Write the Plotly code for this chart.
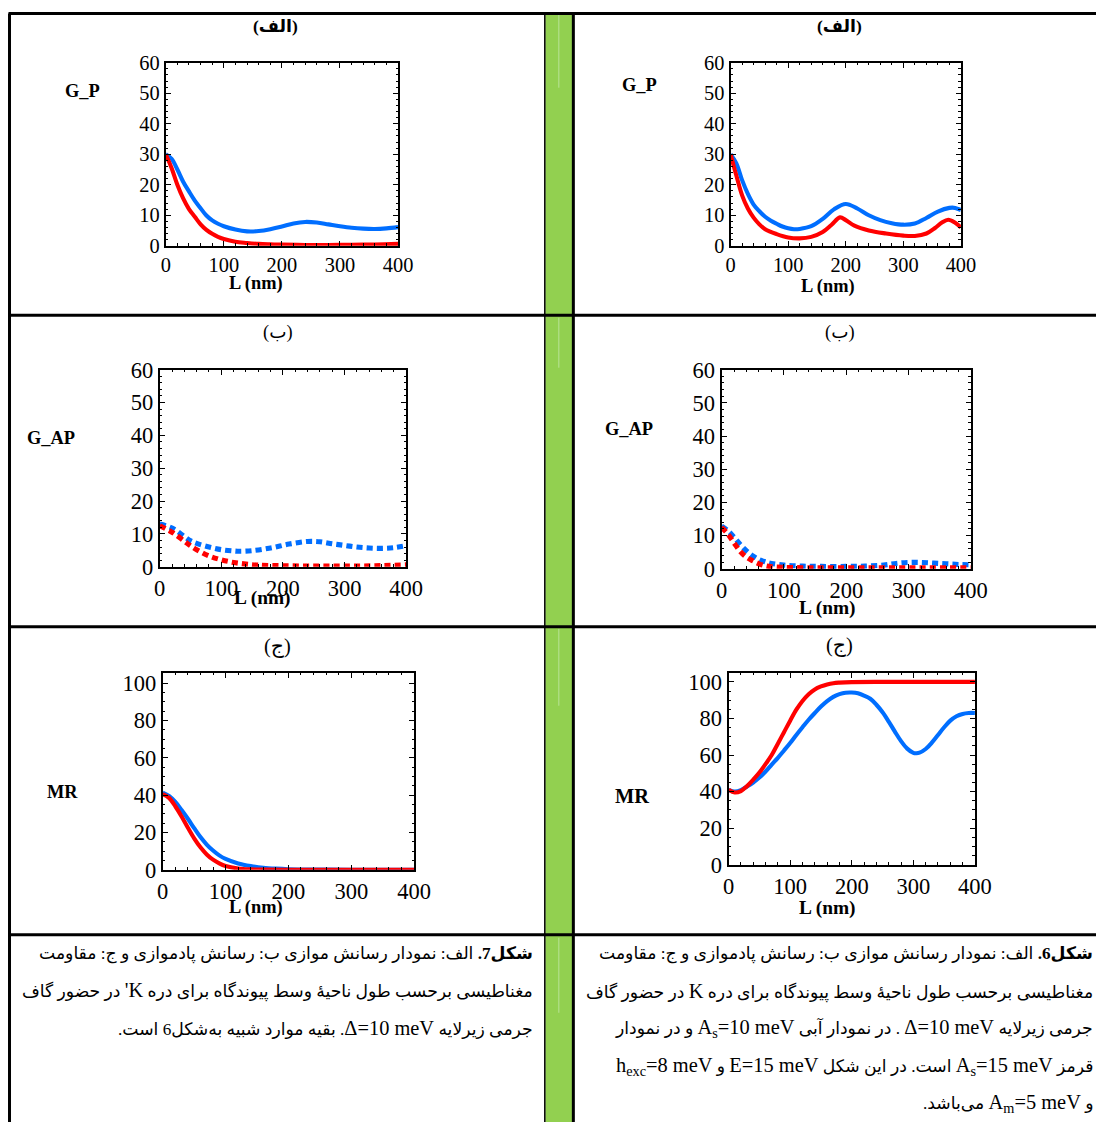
import plotly.graph_objects as go

# ---------------- data ----------------
# Row 1 (G_P) - left panel (K' valley)
L_gp_kp_blue = [0, 10, 20, 30, 40, 50, 60, 70, 80, 90, 100, 120, 140, 160, 180, 200, 220, 240, 260, 280, 300, 320, 340, 360, 380, 400]
gp_kp_blue = [30, 28.5, 25, 21, 17.8, 14.8, 12.3, 9.9, 8.3, 7.2, 6.4, 5.3, 4.7, 4.8, 5.4, 6.3, 7.3, 7.8, 7.6, 7.0, 6.4, 5.9, 5.6, 5.5, 5.7, 6.1]
L_gp_kp_red = [0, 10, 20, 30, 40, 50, 60, 70, 80, 90, 100, 120, 140, 160, 180, 200, 240, 280, 320, 360, 400]
gp_kp_red = [30, 25.5, 20, 15.5, 12, 9.5, 7, 5.2, 3.9, 2.9, 2.2, 1.3, 0.9, 0.6, 0.45, 0.35, 0.25, 0.25, 0.3, 0.4, 0.6]

# Row 1 (G_P) - right panel (K valley)
L_gp_k_blue = [0, 10, 20, 30, 40, 50, 60, 70, 80, 90, 100, 110, 120, 140, 160, 180, 200, 220, 240, 260, 280, 300, 320, 340, 360, 380, 390, 400]
gp_k_blue = [30, 27, 21.5, 17, 13.5, 11.3, 9.5, 8.2, 7.2, 6.3, 5.7, 5.4, 5.5, 6.4, 8.8, 12.0, 13.7, 12.2, 10.0, 8.4, 7.4, 6.9, 7.3, 9.1, 11.2, 12.4, 12.4, 11.7]
L_gp_k_red = [0, 10, 20, 30, 40, 50, 60, 80, 100, 120, 140, 160, 175, 190, 200, 215, 240, 270, 300, 320, 340, 355, 367, 378, 390, 400]
gp_k_red = [30, 23, 16.5, 12.2, 9.2, 7.0, 5.4, 3.8, 2.7, 2.4, 2.9, 4.5, 6.8, 9.3, 8.4, 6.6, 5.0, 4.0, 3.3, 3.2, 4.0, 5.8, 7.6, 8.5, 7.5, 6.0]

# Row 2 (G_AP) - left panel (K' valley)
L_gap_kp_blue = [0, 20, 40, 50, 60, 80, 100, 120, 130, 150, 180, 210, 240, 260, 280, 300, 320, 340, 360, 380, 400]
gap_kp_blue = [13, 11.8, 9.2, 7.9, 7.1, 6.0, 5.2, 4.8, 4.7, 4.9, 5.7, 6.9, 7.7, 7.6, 7.0, 6.5, 6.0, 5.7, 5.6, 5.8, 6.4]
L_gap_kp_red = [0, 20, 40, 50, 60, 80, 100, 120, 140, 160, 200, 250, 300, 350, 400]
gap_kp_red = [12.5, 10.5, 7.8, 6.4, 5.2, 3.3, 2.1, 1.3, 0.8, 0.5, 0.3, 0.2, 0.2, 0.3, 0.6]

# Row 2 (G_AP) - right panel (K valley)
L_gap_k_blue = [0, 10, 20, 30, 40, 50, 60, 70, 80, 100, 130, 160, 200, 230, 260, 280, 300, 320, 340, 360, 380, 400]
gap_k_blue = [12.8, 11.5, 9.5, 7.3, 5.4, 3.9, 2.8, 2.1, 1.6, 1.1, 0.8, 0.7, 0.7, 0.8, 1.1, 1.6, 1.9, 1.9, 1.7, 1.5, 1.3, 1.2]
L_gap_k_red = [0, 10, 20, 30, 40, 50, 60, 70, 80, 100, 150, 200, 250, 300, 350, 400]
gap_k_red = [12.5, 10.5, 7.8, 5.2, 3.5, 2.4, 1.5, 0.9, 0.6, 0.4, 0.3, 0.3, 0.3, 0.3, 0.3, 0.3]

# Row 3 (MR) - left panel (K' valley)
L_mr_kp_blue = [0, 10, 20, 30, 40, 50, 60, 70, 80, 90, 100, 120, 140, 160, 180, 200, 250, 300, 400]
mr_kp_blue = [41.3, 39.5, 36.3, 32, 27.3, 22.3, 17.5, 13.5, 10.3, 7.7, 5.8, 3.4, 2.0, 1.1, 0.6, 0.3, 0.1, 0, 0]
L_mr_kp_red = [0, 10, 20, 30, 40, 50, 60, 70, 80, 90, 100, 120, 140, 160, 200, 300, 400]
mr_kp_red = [40.5, 38.5, 34, 28.5, 22.5, 16.8, 12, 8.2, 5.4, 3.4, 2.0, 0.7, 0.2, 0.05, 0, 0, 0]

# Row 3 (MR) - right panel (K valley)
L_mr_k_blue = [0, 10, 20, 30, 40, 50, 60, 70, 80, 90, 100, 110, 120, 130, 140, 150, 160, 170, 180, 190, 200, 210, 220, 230, 240, 250, 260, 270, 280, 290, 300, 305, 310, 320, 330, 340, 350, 360, 370, 380, 390, 400]
mr_k_blue = [41, 40, 40.8, 42.8, 45, 47.7, 51, 54.8, 58.5, 62.5, 66.6, 71, 75.2, 79.3, 83, 86.5, 89.5, 91.8, 93.3, 94.1, 94.2, 93.8, 92.5, 90.8, 87.5, 83.4, 78.3, 72.8, 67.6, 63.5, 61.2, 61, 61.3, 63.3, 66.8, 71, 75.2, 78.8, 81.2, 82.5, 83, 83]
L_mr_k_red = [0, 10, 20, 30, 40, 50, 60, 70, 80, 90, 100, 110, 120, 130, 140, 150, 160, 170, 180, 200, 250, 300, 350, 400]
mr_k_red = [41, 39.5, 40.3, 43, 46.5, 50.4, 55, 60, 66.2, 72.5, 78.8, 84.8, 89.6, 93.3, 95.9, 97.5, 98.6, 99.3, 99.6, 99.9, 100, 100, 100, 100]

x_ticks = [0, 100, 200, 300, 400]
g_ticks = [0, 10, 20, 30, 40, 50, 60]
mr_ticks = [0, 20, 40, 60, 80, 100]

panel_titles = ["(الف)", "(ب)", "(ج)"]
y_labels = ["G_P", "G_AP", "MR"]
x_label = "L (nm)"

# ---------------- styling / geometry ----------------
# The captured picture is a slightly shrunk, offset copy of the page; compensate.
S, CX, CY = 0.978, 5.5, 11.3
W, H = 1120, 1140   # page size in CSS px


def fs(v):
    return round(v / S, 1)


LAT = '<span style="font-size:%spx">%%s</span>' % fs(20)
caption_left = [
    "<b>شکل7.</b> الف: نمودار رسانش موازی ب: رسانش پادموازی و ج: مقاومت",
    "مغناطیسی برحسب طول ناحیهٔ وسط پیوندگاه برای دره " + LAT % "K'" + " در حضور گاف",
    "جرمی زیرلایه " + LAT % "Δ=10 meV" + ". بقیه موارد شبیه به\u200cشکل6 است.",
]
caption_right = [
    "<b>شکل6.</b> الف: نمودار رسانش موازی ب: رسانش پادموازی و ج: مقاومت",
    "مغناطیسی برحسب طول ناحیهٔ وسط پیوندگاه برای دره " + LAT % "K" + " در حضور گاف",
    "جرمی زیرلایه " + LAT % "Δ=10 meV" + " . در نمودار آبی " + LAT % "A<sub>s</sub>=10 meV" + " و در نمودار",
    "قرمز " + LAT % "A<sub>s</sub>=15 meV" + " است. در این شکل " + LAT % "E=15 meV" + " و " + LAT % "h<sub>exc</sub>=8 meV",
    "و " + LAT % "A<sub>m</sub>=5 meV" + " می\u200cباشد.",
]

BLUE = "#006eff"
RED = "#ff0000"
GREEN = "#92d050"
SERIF = "Liberation Serif, Times New Roman, DejaVu Sans, serif"


def px(x):
    return ((x - CX) / S) / W


def py(y):
    return 1 - ((y - CY) / S) / H


# panel: (box x0, x1, y_top, y_bottom) in picture px, y range, y ticks, y minor dtick, tick font size, series
panels = [
    ((165, 397, 62, 245), [0, 60], g_ticks, 2, 20,
     [(L_gp_kp_blue, gp_kp_blue, BLUE, "solid"), (L_gp_kp_red, gp_kp_red, RED, "solid")]),
    ((729, 959, 62, 245), [0, 60], g_ticks, 2, 20,
     [(L_gp_k_blue, gp_k_blue, BLUE, "solid"), (L_gp_k_red, gp_k_red, RED, "solid")]),
    ((159, 405, 369, 566), [0, 60], g_ticks, 2, 22,
     [(L_gap_kp_blue, gap_kp_blue, BLUE, "dots"), (L_gap_kp_red, gap_kp_red, RED, "dots")]),
    ((720, 969, 369, 568), [0, 60], g_ticks, 2, 22,
     [(L_gap_k_blue, gap_k_blue, BLUE, "dots"), (L_gap_k_red, gap_k_red, RED, "dots")]),
    ((162, 413, 672, 869), [0, 105.5], mr_ticks, 5, 22,
     [(L_mr_kp_blue, mr_kp_blue, BLUE, "solid"), (L_mr_kp_red, mr_kp_red, RED, "solid")]),
    ((727, 973, 672, 864), [0, 105], mr_ticks, 5, 22,
     [(L_mr_k_blue, mr_k_blue, BLUE, "solid"), (L_mr_k_red, mr_k_red, RED, "solid")]),
]

fig = go.Figure()
layout_axes = {}
for i, (box, yr, yt, yminor, tfs, series) in enumerate(panels, start=1):
    x0, x1, yt0, yb = box
    sfx = "" if i == 1 else str(i)
    for (lx, ly, col, dash) in series:
        if dash == "dots":
            ln = dict(color=col, width=fs(5), dash="%spx,%spx" % (fs(6), fs(4)))
        else:
            ln = dict(color=col, width=fs(4), dash="solid")
        ln.update(shape="spline", smoothing=1.0)
        fig.add_trace(go.Scatter(
            x=lx, y=ly, mode="lines", line=ln,
            xaxis="x" + sfx, yaxis="y" + sfx, showlegend=False, hoverinfo="skip"))
    common = dict(showline=True, linecolor="black", linewidth=2, mirror="ticks",
                  ticks="inside", ticklen=5, tickwidth=1, tickcolor="black",
                  showgrid=False, zeroline=False,
                  tickfont=dict(family=SERIF, size=fs(tfs), color="black"))
    layout_axes["xaxis" + sfx] = dict(
        common, domain=[px(x0), px(x1)], range=[0, 400], tickvals=x_ticks,
        anchor="y" + sfx,
        minor=dict(ticks="inside", ticklen=2.5, dtick=20, tickcolor="black", showgrid=False))
    layout_axes["yaxis" + sfx] = dict(
        common, domain=[py(yb), py(yt0)], range=yr, tickvals=yt,
        anchor="x" + sfx,
        minor=dict(ticks="inside", ticklen=2.5, dtick=yminor, tickcolor="black", showgrid=False))

fig.update_layout(**layout_axes)

annotations = []


def add_text(x, y, text, size, bold=False, xanchor="center", family=SERIF):
    annotations.append(dict(
        x=px(x), y=py(y), xref="paper", yref="paper", text=("<b>%s</b>" % text) if bold else text,
        showarrow=False, xanchor=xanchor, yanchor="middle",
        font=dict(family=family, size=fs(size), color="black")))


# panel titles
add_text(275, 25, panel_titles[0], 17, bold=True)
add_text(838, 25, panel_titles[0], 17, bold=True)
add_text(277, 332, panel_titles[1], 18)
add_text(838, 332, panel_titles[1], 18)
add_text(277, 646, panel_titles[2], 20)
add_text(838, 645, panel_titles[2], 20)

# y labels
add_text(82, 90, y_labels[0], 18, bold=True)
add_text(638, 84, y_labels[0], 18, bold=True)
add_text(50, 437, y_labels[1], 18, bold=True)
add_text(628, 428, y_labels[1], 18, bold=True)
add_text(62, 791, y_labels[2], 18, bold=True)
add_text(631, 795, y_labels[2], 20, bold=True)

# x labels
add_text(255, 283, x_label, 18, bold=True)
add_text(826, 286, x_label, 18, bold=True)
add_text(262, 597, x_label, 19, bold=True)
add_text(826, 607, x_label, 19, bold=True)
add_text(255, 907, x_label, 18, bold=True)
add_text(826, 907, x_label, 19, bold=True)

# captions (right-to-left)
RLE, PDF = "\u202b", "\u202c"
for k, line in enumerate(caption_left):
    add_text(534, 953 + 37 * k, RLE + line + PDF, 16.8, xanchor="right")
for k, line in enumerate(caption_right):
    add_text(1093, 953 + 37.5 * k, RLE + line + PDF, 16.8, xanchor="right")

# table frame
shapes = []


def pline(x0, y0, x1, y1, color="black", width=3):
    shapes.append(dict(type="line", xref="paper", yref="paper",
                       x0=px(x0), y0=py(y0), x1=px(x1), y1=py(y1),
                       line=dict(color=color, width=width)))


TOP = CY + 1.5 * S   # top border as high as the page allows
BOTTOM = 1125
RIGHT = 1100
shapes.append(dict(type="rect", xref="paper", yref="paper",
                   x0=px(544), x1=px(571), y0=py(BOTTOM), y1=py(TOP),
                   fillcolor=GREEN, line=dict(width=0), layer="below"))
for (a, b) in [(13, 87), (317, 367), (628, 705), (937, 1012)]:
    pline(557.5, a, 557.5, b, color="#b8e496", width=1)
pline(543.5, TOP, 543.5, BOTTOM, width=1.5)
pline(572, TOP, 572, BOTTOM, width=3)
pline(9, TOP, 9, BOTTOM, width=3)
for yy in [TOP, 314.5, 626, 934]:
    pline(8, yy, RIGHT, yy, width=3)

fig.update_layout(
    width=W, height=H, autosize=False,
    margin=dict(l=0, r=0, t=0, b=0, pad=0),
    paper_bgcolor="white", plot_bgcolor="white",
    annotations=annotations, shapes=shapes,
    showlegend=False,
)

fig.write_html("out.html", config={"displayModeBar": False},
               post_script="document.body.style.margin='0';")
